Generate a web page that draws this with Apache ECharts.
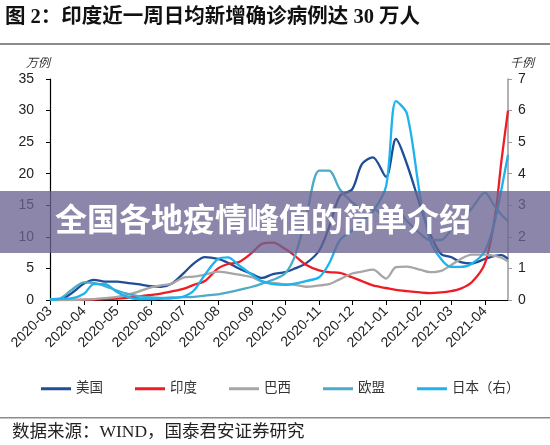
<!DOCTYPE html>
<html lang="zh-CN">
<head>
    <meta charset="UTF-8">
    <title>印度近一周日均新增确诊病例</title>
    <script src="https://cdn.jsdelivr.net/npm/echarts@6.0.0/dist/echarts.min.js"></script>
    <style>
        html, body { margin: 0; padding: 0; background: #fff; }
        #main { width: 550px; height: 445px; }
    </style>
</head>
<body>
    <div id="main"></div>
    <script type="text/javascript">
        // 日期（约每10天一个点）
        var dates = [
            '2020-03-01', '2020-03-10', '2020-03-20', '2020-04-01', '2020-04-10', '2020-04-20',
            '2020-05-01', '2020-05-10', '2020-05-20', '2020-06-01', '2020-06-10', '2020-06-20',
            '2020-07-01', '2020-07-10', '2020-07-20', '2020-08-01', '2020-08-10', '2020-08-20',
            '2020-09-01', '2020-09-10', '2020-09-20', '2020-10-01', '2020-10-10', '2020-10-20',
            '2020-11-01', '2020-11-10', '2020-11-20', '2020-12-01', '2020-12-10', '2020-12-20',
            '2021-01-01', '2021-01-10', '2021-01-20', '2021-02-01', '2021-02-10', '2021-02-20',
            '2021-03-01', '2021-03-10', '2021-03-20', '2021-04-01', '2021-04-10', '2021-04-16',
            '2021-04-22'
        ];
        // 万例（左轴）
        var usa = [0, 0.05, 1.0, 2.6, 3.2, 2.9, 2.9, 2.7, 2.5, 2.2, 2.1, 2.6,
            4.3, 5.8, 6.8, 6.5, 5.9, 5.0, 4.1, 3.5, 4.1, 4.4, 5.0, 5.8,
            7.8, 11.5, 16.5, 17.5, 21.5, 22.6, 19.5, 25.5, 21.5, 15.0, 10.5, 7.3,
            6.8, 6.0, 5.8, 6.5, 7.0, 7.1, 6.5];
        var india = [0, 0, 0, 0.02, 0.08, 0.14, 0.22, 0.35, 0.55, 0.8, 1.0, 1.35,
            1.8, 2.4, 3.0, 5.0, 5.7, 6.0, 7.5, 8.9, 9.1, 8.1, 7.0, 5.6,
            4.7, 4.4, 4.3, 3.6, 3.0, 2.3, 1.9, 1.6, 1.4, 1.2, 1.1, 1.2,
            1.4, 1.8, 2.8, 5.8, 13.0, 22.0, 30.0];
        var brazil = [0, 0, 0.01, 0.08, 0.15, 0.3, 0.5, 0.8, 1.3, 2.0, 2.3, 2.6,
            3.6, 3.7, 4.0, 4.5, 4.3, 4.0, 3.6, 2.9, 2.7, 2.5, 2.4, 2.1,
            2.3, 2.5, 3.3, 4.2, 4.5, 4.8, 3.4, 5.2, 5.3, 4.8, 4.4, 4.6,
            5.5, 6.5, 7.2, 7.2, 7.0, 6.7, 6.1];
        var eu = [0.02, 0.2, 1.5, 2.8, 2.7, 2.2, 1.5, 1.0, 0.6, 0.4, 0.35, 0.4,
            0.45, 0.5, 0.7, 0.9, 1.2, 1.6, 2.1, 2.6, 3.2, 4.2, 7.0, 13.0,
            20.5, 20.5, 17.5, 15.5, 14.5, 14.5, 13.0, 14.5, 12.5, 10.5, 9.5, 9.5,
            11.0, 12.5, 14.5, 17.0, 14.8, 13.5, 12.5];
        // 千例（右轴）
        var japan = [0.02, 0.04, 0.05, 0.2, 0.5, 0.5, 0.25, 0.1, 0.03, 0.03, 0.04, 0.05,
            0.12, 0.3, 0.8, 1.3, 1.35, 1.1, 0.8, 0.6, 0.5, 0.48, 0.52, 0.6,
            0.72, 1.15, 1.9, 2.2, 2.5, 2.8, 3.6, 6.3, 5.9, 3.3, 1.9, 1.3,
            1.05, 1.05, 1.15, 1.55, 2.5, 3.5, 4.6];

        var names = ['美国', '印度', '巴西', '欧盟', '日本（右）'];
        var colors = ['#1f4e96', '#ee1c25', '#a6a6a6', '#4babc9', '#1cb3ee'];

        function pairs(values) {
            return dates.map(function (d, i) { return [d, values[i]]; });
        }

        function lineSeries(name, values, axisIndex) {
            return {
                name: name,
                type: 'line',
                yAxisIndex: axisIndex,
                data: pairs(values),
                showSymbol: false,
                symbol: 'none',
                smooth: 0.3,
                animation: false,
                lineStyle: { width: 2.3 }
            };
        }

        var DAY = 86400000;
        var numFont = 'Liberation Sans, Arial, sans-serif';
        var cjkFont = 'Liberation Serif, Noto Sans CJK SC, serif';

        var option = {
            color: colors,
            animation: false,
            grid: { left: 50, right: 42, top: 79, bottom: 145 },
            legend: {
                data: names,
                top: 377,
                left: 36,
                icon: 'rect',
                itemWidth: 30,
                itemHeight: 3,
                itemGap: 32,
                textStyle: { fontSize: 13.5, color: '#333', fontFamily: cjkFont }
            },
            xAxis: {
                type: 'time',
                min: '2020-03-01',
                max: '2021-04-22',
                splitNumber: 14,
                minInterval: 28 * DAY,
                maxInterval: 31 * DAY,
                axisLine: { lineStyle: { color: '#000', width: 1.2 } },
                axisTick: { show: true, length: 5, lineStyle: { color: '#000' } },
                splitLine: { show: false },
                axisLabel: {
                    rotate: 45,
                    formatter: '{yyyy}-{MM}',
                    fontSize: 14,
                    color: '#222',
                    fontFamily: numFont,
                    margin: 9,
                    showMinLabel: true,
                    showMaxLabel: false
                }
            },
            yAxis: [{
                type: 'value',
                min: 0,
                max: 35,
                interval: 5,
                axisLine: { show: true, lineStyle: { color: '#000', width: 1.2 } },
                axisTick: { show: true, length: 4, lineStyle: { color: '#000' } },
                splitLine: { show: false },
                axisLabel: { fontSize: 14, color: '#222', fontFamily: numFont, margin: 16 }
            }, {
                type: 'value',
                min: 0,
                max: 7,
                interval: 1,
                position: 'right',
                axisLine: { show: true, lineStyle: { color: '#999', width: 1.5 } },
                axisTick: { show: true, length: 4, lineStyle: { color: '#999' } },
                splitLine: { show: false },
                axisLabel: { fontSize: 14, color: '#222', fontFamily: numFont, margin: 10 }
            }],
            series: [
                lineSeries(names[0], usa, 0),
                lineSeries(names[1], india, 0),
                lineSeries(names[2], brazil, 0),
                lineSeries(names[3], eu, 0),
                lineSeries(names[4], japan, 1)
            ],
            graphic: [
                {
                    type: 'text', left: 5, top: 7,
                    style: {
                        text: '图 2：印度近一周日均新增确诊病例达 30 万人',
                        font: 'bold 20.5px Liberation Serif, Noto Sans CJK SC',
                        fill: '#111'
                    }
                },
                {
                    type: 'rect',
                    shape: { x: 0, y: 43, width: 550, height: 2 },
                    style: { fill: '#8c8c8c' }
                },
                {
                    type: 'text', left: 26, top: 56,
                    style: { text: '万例', font: 'italic 12px Noto Sans CJK SC', fill: '#333' }
                },
                {
                    type: 'text', left: 510, top: 56,
                    style: { text: '千例', font: 'italic 12px Noto Sans CJK SC', fill: '#333' }
                },
                {
                    type: 'rect',
                    shape: { x: 0, y: 417, width: 550, height: 1.5 },
                    style: { fill: '#8c8c8c' }
                },
                {
                    type: 'text', left: 12, top: 424,
                    style: {
                        text: '数据来源：WIND，国泰君安证券研究',
                        font: '17.5px Liberation Serif, Noto Sans CJK SC',
                        fill: '#222'
                    }
                },
                {
                    type: 'rect', z: 100,
                    shape: { x: 0, y: 191, width: 550, height: 62 },
                    style: { fill: 'rgba(108,100,146,0.78)' }
                },
                {
                    type: 'text', z: 101, left: 55, top: 203,
                    style: {
                        text: '全国各地疫情峰值的简单介绍',
                        font: 'bold 32px Noto Sans CJK SC',
                        fill: '#fff',
                        shadowBlur: 2,
                        shadowColor: 'rgba(0,0,0,0.25)'
                    }
                }
            ]
        };

        var myChart = echarts.init(document.getElementById('main'));
        myChart.setOption(option);
    </script>
</body>
</html>
